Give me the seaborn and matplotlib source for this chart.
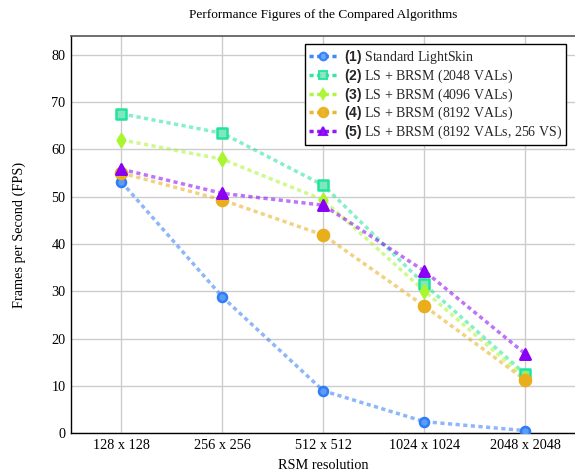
import matplotlib
matplotlib.use("Agg")
import matplotlib.pyplot as plt
import seaborn as sns
import pandas as pd
from matplotlib.lines import Line2D

resolutions = ["128 x 128", "256 x 256", "512 x 512", "1024 x 1024", "2048 x 2048"]
s1 = [53.1, 28.8, 9.0, 2.5, 0.6]
s2 = [67.5, 63.4, 52.4, 31.5, 12.5]
s3 = [62.0, 57.9, 49.3, 30.1, 11.7]
s4 = [55.0, 49.3, 41.9, 26.9, 11.3]
s5 = [55.8, 50.7, 48.2, 34.3, 16.8]
labels = [r"$\mathbf{(1)}$ Standard LightSkin",
          r"$\mathbf{(2)}$ LS + BRSM (2048 VALs)",
          r"$\mathbf{(3)}$ LS + BRSM (4096 VALs)",
          r"$\mathbf{(4)}$ LS + BRSM (8192 VALs)",
          r"$\mathbf{(5)}$ LS + BRSM (8192 VALs, 256 VS)"]

sns.set_theme(style="whitegrid")
plt.rcParams["font.family"] = ["Liberation Serif", "DejaVu Serif"]
plt.rcParams["mathtext.fontset"] = "custom"
plt.rcParams["mathtext.rm"] = "Liberation Serif"
plt.rcParams["mathtext.bf"] = "Liberation Sans:bold"

fig = plt.figure(figsize=(5.75, 4.75), dpi=100)
ax = fig.add_axes([0.1235, 0.0874, 0.878, 0.8375])

series = [s1, s2, s3, s4, s5]
colors = ["#2f7cf6", "#22e39a", "#a8f530", "#e9ae1c", "#8a00f5"]
faces = ["#5a9cf8", "#7ee6c0", "#a8f530", "#e9ae1c", "#8a00f5"]
markers = ["o", "s", "d", "o", "^"]
msizes = [6.5, 7, 6.5, 8, 7.5]
dash = (0, (1.2, 1.0))

x = list(range(len(resolutions)))
for s, c, fc, m, ms in zip(series, colors, faces, markers, msizes):
    df = pd.DataFrame({"x": x, "y": s})
    sns.lineplot(data=df, x="x", y="y", ax=ax, color=c, linestyle=dash,
                 linewidth=2.5, alpha=0.55, legend=False)
    sns.scatterplot(data=df, x="x", y="y", ax=ax, color=fc, edgecolor=c, marker=m,
                    s=ms ** 2, linewidth=1.8, legend=False, zorder=5)

handles = []
for c, fc, m, ms in zip(colors, faces, markers, msizes):
    handles.append(Line2D([0], [0], color=c, linestyle=dash, linewidth=2.5, alpha=0.9,
                          marker=m, markersize=ms * 0.85, markerfacecolor=fc,
                          markeredgecolor=c, markeredgewidth=1.5))
leg = fig.legend(handles, labels, loc="upper right", bbox_to_anchor=(0.9843, 0.9074),
                 frameon=True, fancybox=False, edgecolor="black", fontsize=10.0,
                 handlelength=2.0, borderpad=0.3, labelspacing=0.1, handletextpad=0.5,
                 borderaxespad=0.0)
leg.get_frame().set_linewidth(1.0)
leg.get_frame().set_alpha(1.0)

ax.set_xlim(-0.5, 4.5)
ax.set_ylim(0, 84)
ax.set_xticks(x)
ax.set_xticklabels(resolutions)
ax.set_yticks([0, 10, 20, 30, 40, 50, 60, 70, 80])
ax.tick_params(axis="both", labelsize=10.3, direction="in", length=4, color="#aaaaaa",
               labelcolor="black", pad=4)
ax.grid(True, color="#cccccc", linewidth=1.0)
for sp in ["left", "bottom"]:
    ax.spines[sp].set_color("black")
    ax.spines[sp].set_linewidth(1.0)
ax.spines["top"].set_color("#555555")
ax.spines["top"].set_linewidth(1.2)
ax.spines["right"].set_visible(False)
ax.set_xlabel("RSM resolution", fontsize=10.3, color="black", labelpad=5)
ax.set_ylabel("Frames per Second (FPS)", fontsize=10.3, color="black", labelpad=18)
ax.set_title("Performance Figures of the Compared Algorithms", fontsize=9.6,
             color="black", pad=13)

fig.savefig("out.png", dpi=100)
